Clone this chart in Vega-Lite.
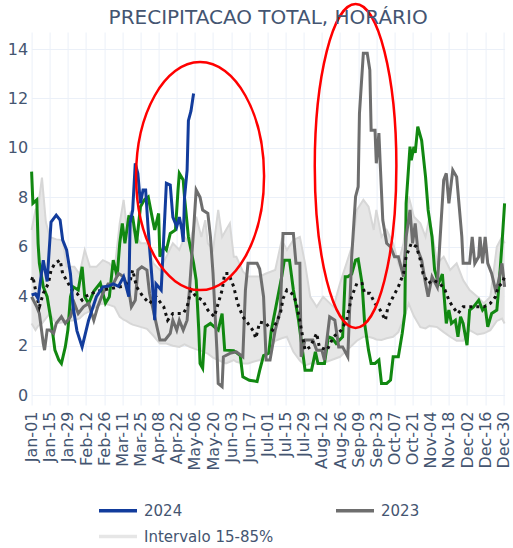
{
  "$schema": "https://vega.github.io/schema/vega-lite/v6.json",
  "width": 473,
  "height": 373,
  "autosize": {"type": "none"},
  "padding": {"left": 31.6, "top": 32, "right": 8.4, "bottom": 143},
  "title": {"text": "PRECIPITACAO TOTAL, HORÁRIO", "font": "DejaVu Sans", "fontSize": 20, "fontWeight": "normal", "color": "#445571", "anchor": "middle", "offset": -45, "baseline": "alphabetic"},
  "config": {
    "view": {"stroke": null},
    "axis": {"labelFont": "DejaVu Sans", "labelFontSize": 16, "labelColor": "#445571", "gridColor": "#ebf0f8", "gridWidth": 1, "domain": false, "ticks": false, "title": null}
  },
  "datasets": {
    "s2024": [
      {"date": "2024-01-01", "value": 4.05}, {"date": "2024-01-04", "value": 4.1}, {"date": "2024-01-06", "value": 3.9}, {"date": "2024-01-10", "value": 5.46}, {"date": "2024-01-13", "value": 4.6}, {"date": "2024-01-16", "value": 7.0}, {"date": "2024-01-20", "value": 7.28}, {"date": "2024-01-23", "value": 7.08}, {"date": "2024-01-25", "value": 6.27}, {"date": "2024-01-28", "value": 5.87}, {"date": "2024-01-31", "value": 4.9}, {"date": "2024-02-02", "value": 3.57}, {"date": "2024-02-05", "value": 2.6}, {"date": "2024-02-09", "value": 1.95}, {"date": "2024-02-14", "value": 3.03}, {"date": "2024-02-20", "value": 3.98}, {"date": "2024-02-25", "value": 4.38}, {"date": "2024-02-29", "value": 4.4}, {"date": "2024-03-04", "value": 4.5}, {"date": "2024-03-08", "value": 4.4}, {"date": "2024-03-12", "value": 4.79}, {"date": "2024-03-16", "value": 3.98}, {"date": "2024-03-17", "value": 6.95}, {"date": "2024-03-19", "value": 7.49}, {"date": "2024-03-21", "value": 9.38}, {"date": "2024-03-23", "value": 8.97}, {"date": "2024-03-25", "value": 7.76}, {"date": "2024-03-27", "value": 8.3}, {"date": "2024-03-29", "value": 8.3}, {"date": "2024-03-31", "value": 6.68}, {"date": "2024-04-03", "value": 4.65}, {"date": "2024-04-05", "value": 3.03}, {"date": "2024-04-06", "value": 4.5}, {"date": "2024-04-10", "value": 4.25}, {"date": "2024-04-12", "value": 6.4}, {"date": "2024-04-14", "value": 8.57}, {"date": "2024-04-17", "value": 8.5}, {"date": "2024-04-19", "value": 7.2}, {"date": "2024-04-22", "value": 6.81}, {"date": "2024-04-24", "value": 7.2}, {"date": "2024-04-26", "value": 6.68}, {"date": "2024-04-27", "value": 6.2}, {"date": "2024-04-28", "value": 8.0}, {"date": "2024-04-30", "value": 9.1}, {"date": "2024-05-01", "value": 11.1}, {"date": "2024-05-03", "value": 11.5}, {"date": "2024-05-05", "value": 12.2}
    ],
    "s2023": [
      {"date": "2024-01-01", "value": 3.98}, {"date": "2024-01-05", "value": 3.57}, {"date": "2024-01-07", "value": 3.3}, {"date": "2024-01-10", "value": 2.09}, {"date": "2024-01-11", "value": 1.82}, {"date": "2024-01-13", "value": 2.63}, {"date": "2024-01-15", "value": 2.63}, {"date": "2024-01-18", "value": 2.5}, {"date": "2024-01-20", "value": 2.9}, {"date": "2024-01-24", "value": 3.17}, {"date": "2024-01-27", "value": 2.9}, {"date": "2024-01-31", "value": 3.17}, {"date": "2024-02-03", "value": 3.71}, {"date": "2024-02-06", "value": 3.3}, {"date": "2024-02-10", "value": 3.57}, {"date": "2024-02-14", "value": 3.71}, {"date": "2024-02-18", "value": 3.03}, {"date": "2024-02-21", "value": 3.57}, {"date": "2024-02-25", "value": 4.12}, {"date": "2024-02-29", "value": 4.5}, {"date": "2024-03-04", "value": 4.5}, {"date": "2024-03-08", "value": 4.92}, {"date": "2024-03-12", "value": 4.79}, {"date": "2024-03-16", "value": 4.25}, {"date": "2024-03-18", "value": 3.57}, {"date": "2024-03-21", "value": 3.84}, {"date": "2024-03-23", "value": 5.06}, {"date": "2024-03-26", "value": 5.19}, {"date": "2024-03-30", "value": 5.06}, {"date": "2024-04-01", "value": 4.12}, {"date": "2024-04-05", "value": 3.17}, {"date": "2024-04-09", "value": 2.23}, {"date": "2024-04-13", "value": 2.23}, {"date": "2024-04-17", "value": 2.5}, {"date": "2024-04-19", "value": 3.03}, {"date": "2024-04-22", "value": 2.63}, {"date": "2024-04-24", "value": 3.03}, {"date": "2024-04-27", "value": 2.63}, {"date": "2024-04-30", "value": 3.03}, {"date": "2024-05-02", "value": 4.38}, {"date": "2024-05-05", "value": 6.68}, {"date": "2024-05-07", "value": 8.3}, {"date": "2024-05-10", "value": 8.0}, {"date": "2024-05-12", "value": 7.49}, {"date": "2024-05-16", "value": 7.35}, {"date": "2024-05-18", "value": 6.4}, {"date": "2024-05-20", "value": 4.92}, {"date": "2024-05-23", "value": 1.82}, {"date": "2024-05-24", "value": 0.47}, {"date": "2024-05-27", "value": 0.34}, {"date": "2024-05-28", "value": 1.55}, {"date": "2024-06-02", "value": 1.69}, {"date": "2024-06-07", "value": 1.75}, {"date": "2024-06-12", "value": 1.55}, {"date": "2024-06-14", "value": 4.25}, {"date": "2024-06-16", "value": 5.33}, {"date": "2024-06-20", "value": 5.33}, {"date": "2024-06-23", "value": 5.33}, {"date": "2024-06-25", "value": 5.1}, {"date": "2024-06-28", "value": 3.98}, {"date": "2024-06-30", "value": 1.42}, {"date": "2024-07-03", "value": 1.42}, {"date": "2024-07-07", "value": 2.63}, {"date": "2024-07-11", "value": 3.44}, {"date": "2024-07-13", "value": 6.54}, {"date": "2024-07-21", "value": 6.54}, {"date": "2024-07-23", "value": 5.33}, {"date": "2024-07-26", "value": 5.33}, {"date": "2024-07-27", "value": 1.55}, {"date": "2024-07-30", "value": 2.23}, {"date": "2024-08-05", "value": 2.23}, {"date": "2024-08-08", "value": 1.82}, {"date": "2024-08-12", "value": 1.82}, {"date": "2024-08-14", "value": 1.42}, {"date": "2024-08-18", "value": 3.17}, {"date": "2024-08-22", "value": 3.03}, {"date": "2024-08-25", "value": 1.95}, {"date": "2024-08-28", "value": 1.95}, {"date": "2024-09-01", "value": 1.55}, {"date": "2024-09-04", "value": 5.6}, {"date": "2024-09-07", "value": 8.03}, {"date": "2024-09-09", "value": 8.43}, {"date": "2024-09-10", "value": 11.4}, {"date": "2024-09-13", "value": 13.83}, {"date": "2024-09-16", "value": 13.83}, {"date": "2024-09-18", "value": 13.15}, {"date": "2024-09-19", "value": 10.72}, {"date": "2024-09-22", "value": 10.72}, {"date": "2024-09-23", "value": 9.38}, {"date": "2024-09-25", "value": 10.6}, {"date": "2024-09-26", "value": 9.38}, {"date": "2024-09-28", "value": 7.08}, {"date": "2024-10-01", "value": 6.14}, {"date": "2024-10-04", "value": 6.0}, {"date": "2024-10-07", "value": 5.6}, {"date": "2024-10-10", "value": 5.6}, {"date": "2024-10-14", "value": 4.79}, {"date": "2024-10-16", "value": 6.4}, {"date": "2024-10-19", "value": 7.49}, {"date": "2024-10-21", "value": 6.14}, {"date": "2024-10-23", "value": 6.95}, {"date": "2024-10-25", "value": 5.87}, {"date": "2024-10-28", "value": 5.46}, {"date": "2024-10-31", "value": 4.52}, {"date": "2024-11-02", "value": 3.98}, {"date": "2024-11-05", "value": 4.79}, {"date": "2024-11-09", "value": 4.38}, {"date": "2024-11-11", "value": 6.14}, {"date": "2024-11-14", "value": 8.7}, {"date": "2024-11-16", "value": 8.97}, {"date": "2024-11-18", "value": 7.76}, {"date": "2024-11-21", "value": 9.1}, {"date": "2024-11-24", "value": 8.83}, {"date": "2024-11-26", "value": 7.62}, {"date": "2024-11-28", "value": 6.4}, {"date": "2024-11-29", "value": 5.33}, {"date": "2024-12-04", "value": 5.33}, {"date": "2024-12-06", "value": 6.4}, {"date": "2024-12-08", "value": 5.33}, {"date": "2024-12-11", "value": 5.6}, {"date": "2024-12-12", "value": 6.4}, {"date": "2024-12-14", "value": 5.33}, {"date": "2024-12-16", "value": 6.4}, {"date": "2024-12-18", "value": 5.33}, {"date": "2024-12-21", "value": 4.92}, {"date": "2024-12-24", "value": 4.25}, {"date": "2024-12-26", "value": 4.52}, {"date": "2024-12-29", "value": 5.33}, {"date": "2024-12-31", "value": 4.38}
    ],
    "s2022": [
      {"date": "2024-01-01", "value": 9.04}, {"date": "2024-01-02", "value": 7.76}, {"date": "2024-01-05", "value": 7.9}, {"date": "2024-01-06", "value": 6.14}, {"date": "2024-01-07", "value": 5.33}, {"date": "2024-01-10", "value": 4.38}, {"date": "2024-01-13", "value": 3.98}, {"date": "2024-01-16", "value": 3.03}, {"date": "2024-01-19", "value": 1.82}, {"date": "2024-01-22", "value": 1.42}, {"date": "2024-01-24", "value": 1.28}, {"date": "2024-01-27", "value": 1.95}, {"date": "2024-01-29", "value": 2.63}, {"date": "2024-01-31", "value": 3.98}, {"date": "2024-02-02", "value": 4.38}, {"date": "2024-02-06", "value": 4.25}, {"date": "2024-02-09", "value": 5.19}, {"date": "2024-02-11", "value": 3.98}, {"date": "2024-02-14", "value": 3.7}, {"date": "2024-02-18", "value": 4.2}, {"date": "2024-02-23", "value": 4.53}, {"date": "2024-02-27", "value": 3.72}, {"date": "2024-03-01", "value": 3.98}, {"date": "2024-03-04", "value": 5.46}, {"date": "2024-03-07", "value": 4.79}, {"date": "2024-03-09", "value": 6.14}, {"date": "2024-03-11", "value": 6.95}, {"date": "2024-03-13", "value": 6.14}, {"date": "2024-03-16", "value": 7.22}, {"date": "2024-03-19", "value": 7.2}, {"date": "2024-03-22", "value": 6.14}, {"date": "2024-03-25", "value": 7.62}, {"date": "2024-03-28", "value": 7.9}, {"date": "2024-03-31", "value": 8.02}, {"date": "2024-04-03", "value": 7.2}, {"date": "2024-04-05", "value": 6.68}, {"date": "2024-04-08", "value": 7.35}, {"date": "2024-04-09", "value": 5.6}, {"date": "2024-04-12", "value": 6.0}, {"date": "2024-04-14", "value": 5.87}, {"date": "2024-04-17", "value": 6.54}, {"date": "2024-04-21", "value": 6.68}, {"date": "2024-04-23", "value": 8.3}, {"date": "2024-04-24", "value": 8.97}, {"date": "2024-04-27", "value": 8.7}, {"date": "2024-04-28", "value": 8.0}, {"date": "2024-05-01", "value": 6.4}, {"date": "2024-05-05", "value": 5.33}, {"date": "2024-05-07", "value": 4.65}, {"date": "2024-05-09", "value": 2.63}, {"date": "2024-05-10", "value": 1.28}, {"date": "2024-05-12", "value": 1.09}, {"date": "2024-05-14", "value": 2.76}, {"date": "2024-05-18", "value": 2.9}, {"date": "2024-05-21", "value": 2.76}, {"date": "2024-05-24", "value": 2.63}, {"date": "2024-05-27", "value": 3.3}, {"date": "2024-05-29", "value": 1.82}, {"date": "2024-06-05", "value": 1.8}, {"date": "2024-06-10", "value": 1.6}, {"date": "2024-06-12", "value": 0.74}, {"date": "2024-06-17", "value": 0.6}, {"date": "2024-06-23", "value": 0.55}, {"date": "2024-06-25", "value": 1.0}, {"date": "2024-06-28", "value": 1.6}, {"date": "2024-07-02", "value": 1.69}, {"date": "2024-07-04", "value": 2.63}, {"date": "2024-07-08", "value": 3.7}, {"date": "2024-07-12", "value": 4.79}, {"date": "2024-07-14", "value": 5.46}, {"date": "2024-07-18", "value": 5.46}, {"date": "2024-07-21", "value": 4.25}, {"date": "2024-07-25", "value": 3.03}, {"date": "2024-07-27", "value": 2.23}, {"date": "2024-07-30", "value": 1.01}, {"date": "2024-08-04", "value": 1.01}, {"date": "2024-08-07", "value": 1.75}, {"date": "2024-08-09", "value": 1.28}, {"date": "2024-08-14", "value": 1.28}, {"date": "2024-08-17", "value": 2.36}, {"date": "2024-08-20", "value": 2.3}, {"date": "2024-08-23", "value": 2.09}, {"date": "2024-08-28", "value": 2.36}, {"date": "2024-08-30", "value": 4.79}, {"date": "2024-09-01", "value": 4.79}, {"date": "2024-09-04", "value": 4.9}, {"date": "2024-09-07", "value": 5.46}, {"date": "2024-09-09", "value": 5.5}, {"date": "2024-09-12", "value": 4.52}, {"date": "2024-09-14", "value": 2.9}, {"date": "2024-09-17", "value": 1.82}, {"date": "2024-09-19", "value": 1.28}, {"date": "2024-09-22", "value": 1.28}, {"date": "2024-09-25", "value": 1.42}, {"date": "2024-09-27", "value": 0.47}, {"date": "2024-10-01", "value": 0.47}, {"date": "2024-10-04", "value": 0.61}, {"date": "2024-10-06", "value": 1.55}, {"date": "2024-10-10", "value": 1.55}, {"date": "2024-10-13", "value": 2.5}, {"date": "2024-10-15", "value": 3.3}, {"date": "2024-10-16", "value": 7.76}, {"date": "2024-10-19", "value": 10.05}, {"date": "2024-10-20", "value": 9.5}, {"date": "2024-10-22", "value": 10.05}, {"date": "2024-10-23", "value": 9.8}, {"date": "2024-10-25", "value": 10.86}, {"date": "2024-10-28", "value": 10.3}, {"date": "2024-10-31", "value": 8.83}, {"date": "2024-11-02", "value": 7.49}, {"date": "2024-11-05", "value": 6.4}, {"date": "2024-11-07", "value": 5.06}, {"date": "2024-11-10", "value": 4.52}, {"date": "2024-11-13", "value": 4.9}, {"date": "2024-11-16", "value": 2.9}, {"date": "2024-11-18", "value": 3.44}, {"date": "2024-11-20", "value": 2.9}, {"date": "2024-11-23", "value": 3.03}, {"date": "2024-11-25", "value": 2.36}, {"date": "2024-11-27", "value": 3.17}, {"date": "2024-11-29", "value": 2.9}, {"date": "2024-12-02", "value": 2.02}, {"date": "2024-12-04", "value": 3.44}, {"date": "2024-12-07", "value": 3.57}, {"date": "2024-12-11", "value": 3.84}, {"date": "2024-12-14", "value": 3.44}, {"date": "2024-12-16", "value": 3.57}, {"date": "2024-12-18", "value": 2.76}, {"date": "2024-12-21", "value": 3.3}, {"date": "2024-12-25", "value": 3.44}, {"date": "2024-12-27", "value": 4.65}, {"date": "2024-12-29", "value": 6.14}, {"date": "2024-12-31", "value": 7.76}
    ],
    "media": [
      {"date": "2024-01-01", "value": 4.65}, {"date": "2024-01-02", "value": 4.8}, {"date": "2024-01-05", "value": 3.98}, {"date": "2024-01-07", "value": 3.57}, {"date": "2024-01-10", "value": 4.12}, {"date": "2024-01-14", "value": 4.52}, {"date": "2024-01-16", "value": 5.06}, {"date": "2024-01-19", "value": 5.33}, {"date": "2024-01-23", "value": 5.46}, {"date": "2024-01-25", "value": 4.9}, {"date": "2024-01-28", "value": 4.65}, {"date": "2024-02-01", "value": 4.25}, {"date": "2024-02-05", "value": 4.12}, {"date": "2024-02-09", "value": 3.84}, {"date": "2024-02-12", "value": 4.0}, {"date": "2024-02-20", "value": 4.2}, {"date": "2024-03-01", "value": 4.3}, {"date": "2024-03-11", "value": 4.4}, {"date": "2024-03-17", "value": 4.6}, {"date": "2024-03-19", "value": 5.06}, {"date": "2024-03-22", "value": 4.38}, {"date": "2024-03-27", "value": 3.98}, {"date": "2024-04-01", "value": 3.71}, {"date": "2024-04-06", "value": 3.98}, {"date": "2024-04-12", "value": 3.57}, {"date": "2024-04-15", "value": 3.03}, {"date": "2024-04-19", "value": 3.3}, {"date": "2024-04-23", "value": 3.3}, {"date": "2024-04-27", "value": 3.3}, {"date": "2024-04-30", "value": 3.57}, {"date": "2024-05-03", "value": 4.25}, {"date": "2024-05-07", "value": 3.98}, {"date": "2024-05-12", "value": 3.84}, {"date": "2024-05-16", "value": 3.44}, {"date": "2024-05-21", "value": 3.17}, {"date": "2024-05-27", "value": 4.25}, {"date": "2024-05-29", "value": 4.92}, {"date": "2024-06-01", "value": 4.92}, {"date": "2024-06-05", "value": 4.38}, {"date": "2024-06-08", "value": 3.71}, {"date": "2024-06-12", "value": 3.17}, {"date": "2024-06-16", "value": 2.9}, {"date": "2024-06-20", "value": 2.6}, {"date": "2024-06-22", "value": 2.3}, {"date": "2024-06-25", "value": 2.95}, {"date": "2024-06-30", "value": 2.9}, {"date": "2024-07-02", "value": 2.76}, {"date": "2024-07-05", "value": 2.63}, {"date": "2024-07-11", "value": 3.3}, {"date": "2024-07-13", "value": 3.9}, {"date": "2024-07-16", "value": 4.25}, {"date": "2024-07-20", "value": 4.1}, {"date": "2024-07-23", "value": 3.8}, {"date": "2024-07-26", "value": 3.0}, {"date": "2024-07-30", "value": 1.82}, {"date": "2024-08-03", "value": 1.95}, {"date": "2024-08-08", "value": 2.5}, {"date": "2024-08-10", "value": 1.95}, {"date": "2024-08-16", "value": 1.82}, {"date": "2024-08-21", "value": 2.36}, {"date": "2024-08-27", "value": 2.63}, {"date": "2024-08-31", "value": 3.03}, {"date": "2024-09-04", "value": 3.98}, {"date": "2024-09-08", "value": 4.52}, {"date": "2024-09-12", "value": 4.52}, {"date": "2024-09-14", "value": 4.12}, {"date": "2024-09-18", "value": 4.12}, {"date": "2024-09-22", "value": 3.71}, {"date": "2024-09-26", "value": 3.44}, {"date": "2024-09-30", "value": 3.03}, {"date": "2024-10-02", "value": 3.57}, {"date": "2024-10-06", "value": 3.98}, {"date": "2024-10-10", "value": 4.38}, {"date": "2024-10-14", "value": 4.92}, {"date": "2024-10-16", "value": 5.6}, {"date": "2024-10-20", "value": 6.14}, {"date": "2024-10-24", "value": 6.0}, {"date": "2024-10-27", "value": 5.46}, {"date": "2024-10-29", "value": 4.92}, {"date": "2024-11-02", "value": 4.52}, {"date": "2024-11-06", "value": 4.65}, {"date": "2024-11-11", "value": 4.52}, {"date": "2024-11-15", "value": 4.25}, {"date": "2024-11-18", "value": 3.84}, {"date": "2024-11-21", "value": 3.57}, {"date": "2024-11-25", "value": 3.3}, {"date": "2024-11-29", "value": 3.57}, {"date": "2024-12-04", "value": 3.57}, {"date": "2024-12-10", "value": 3.57}, {"date": "2024-12-15", "value": 3.57}, {"date": "2024-12-20", "value": 3.71}, {"date": "2024-12-24", "value": 3.98}, {"date": "2024-12-26", "value": 4.38}, {"date": "2024-12-29", "value": 4.52}, {"date": "2024-12-31", "value": 4.79}
    ],
    "faixa": [
      {"date": "2024-01-01", "lo": 2.9, "hi": 6.68}, {"date": "2024-01-04", "lo": 2.63, "hi": 7.5}, {"date": "2024-01-06", "lo": 2.8, "hi": 7.6}, {"date": "2024-01-09", "lo": 2.9, "hi": 8.8}, {"date": "2024-01-12", "lo": 3.1, "hi": 7.0}, {"date": "2024-01-15", "lo": 3.3, "hi": 6.4}, {"date": "2024-01-20", "lo": 2.9, "hi": 6.3}, {"date": "2024-01-25", "lo": 2.95, "hi": 6.27}, {"date": "2024-01-28", "lo": 3.0, "hi": 5.2}, {"date": "2024-02-03", "lo": 3.03, "hi": 5.19}, {"date": "2024-02-07", "lo": 3.1, "hi": 4.9}, {"date": "2024-02-11", "lo": 3.3, "hi": 5.87}, {"date": "2024-02-15", "lo": 3.4, "hi": 5.19}, {"date": "2024-02-20", "lo": 3.6, "hi": 5.19}, {"date": "2024-02-25", "lo": 3.71, "hi": 5.46}, {"date": "2024-03-01", "lo": 3.65, "hi": 5.33}, {"date": "2024-03-05", "lo": 3.57, "hi": 5.06}, {"date": "2024-03-09", "lo": 3.17, "hi": 6.95}, {"date": "2024-03-12", "lo": 3.05, "hi": 7.9}, {"date": "2024-03-14", "lo": 3.0, "hi": 7.0}, {"date": "2024-03-17", "lo": 2.9, "hi": 7.35}, {"date": "2024-03-19", "lo": 2.85, "hi": 6.68}, {"date": "2024-03-25", "lo": 2.76, "hi": 6.14}, {"date": "2024-03-30", "lo": 2.68, "hi": 6.14}, {"date": "2024-04-04", "lo": 2.4, "hi": 5.33}, {"date": "2024-04-09", "lo": 2.09, "hi": 5.06}, {"date": "2024-04-14", "lo": 2.09, "hi": 5.6}, {"date": "2024-04-19", "lo": 2.0, "hi": 6.14}, {"date": "2024-04-24", "lo": 1.95, "hi": 5.87}, {"date": "2024-04-28", "lo": 2.05, "hi": 6.4}, {"date": "2024-05-02", "lo": 1.95, "hi": 6.14}, {"date": "2024-05-07", "lo": 1.85, "hi": 7.22}, {"date": "2024-05-11", "lo": 1.8, "hi": 6.4}, {"date": "2024-05-14", "lo": 1.72, "hi": 7.08}, {"date": "2024-05-16", "lo": 1.68, "hi": 6.14}, {"date": "2024-05-20", "lo": 1.52, "hi": 5.87}, {"date": "2024-05-24", "lo": 1.42, "hi": 7.49}, {"date": "2024-05-27", "lo": 1.35, "hi": 6.4}, {"date": "2024-05-30", "lo": 1.28, "hi": 6.68}, {"date": "2024-06-02", "lo": 1.35, "hi": 6.95}, {"date": "2024-06-05", "lo": 1.42, "hi": 5.6}, {"date": "2024-06-07", "lo": 1.35, "hi": 5.6}, {"date": "2024-06-12", "lo": 1.28, "hi": 5.0}, {"date": "2024-06-16", "lo": 1.28, "hi": 4.8}, {"date": "2024-06-20", "lo": 1.35, "hi": 4.8}, {"date": "2024-06-25", "lo": 1.42, "hi": 4.8}, {"date": "2024-06-30", "lo": 1.65, "hi": 4.92}, {"date": "2024-07-07", "lo": 2.2, "hi": 5.06}, {"date": "2024-07-12", "lo": 2.3, "hi": 6.27}, {"date": "2024-07-16", "lo": 2.36, "hi": 5.87}, {"date": "2024-07-21", "lo": 1.75, "hi": 6.27}, {"date": "2024-07-26", "lo": 1.4, "hi": 6.4}, {"date": "2024-07-30", "lo": 1.2, "hi": 5.33}, {"date": "2024-08-03", "lo": 1.28, "hi": 3.98}, {"date": "2024-08-08", "lo": 1.28, "hi": 3.57}, {"date": "2024-08-13", "lo": 1.3, "hi": 3.98}, {"date": "2024-08-21", "lo": 1.45, "hi": 3.57}, {"date": "2024-08-26", "lo": 1.55, "hi": 4.52}, {"date": "2024-08-31", "lo": 1.8, "hi": 5.33}, {"date": "2024-09-05", "lo": 2.05, "hi": 6.14}, {"date": "2024-09-08", "lo": 2.2, "hi": 7.49}, {"date": "2024-09-13", "lo": 2.36, "hi": 7.9}, {"date": "2024-09-17", "lo": 2.36, "hi": 7.62}, {"date": "2024-09-21", "lo": 2.3, "hi": 6.68}, {"date": "2024-09-23", "lo": 2.25, "hi": 7.49}, {"date": "2024-09-27", "lo": 2.23, "hi": 6.4}, {"date": "2024-10-01", "lo": 2.3, "hi": 6.68}, {"date": "2024-10-06", "lo": 2.36, "hi": 6.14}, {"date": "2024-10-10", "lo": 2.55, "hi": 5.33}, {"date": "2024-10-14", "lo": 3.1, "hi": 6.14}, {"date": "2024-10-18", "lo": 3.7, "hi": 8.03}, {"date": "2024-10-22", "lo": 3.2, "hi": 7.22}, {"date": "2024-10-27", "lo": 2.75, "hi": 6.95}, {"date": "2024-10-31", "lo": 2.7, "hi": 6.4}, {"date": "2024-11-03", "lo": 2.8, "hi": 7.22}, {"date": "2024-11-09", "lo": 2.75, "hi": 5.33}, {"date": "2024-11-14", "lo": 2.55, "hi": 5.6}, {"date": "2024-11-19", "lo": 2.36, "hi": 5.06}, {"date": "2024-11-24", "lo": 2.2, "hi": 5.33}, {"date": "2024-11-29", "lo": 2.2, "hi": 4.65}, {"date": "2024-12-04", "lo": 2.63, "hi": 4.25}, {"date": "2024-12-10", "lo": 2.45, "hi": 3.98}, {"date": "2024-12-15", "lo": 2.5, "hi": 3.71}, {"date": "2024-12-20", "lo": 2.63, "hi": 3.98}, {"date": "2024-12-25", "lo": 3.0, "hi": 6.0}, {"date": "2024-12-29", "lo": 3.1, "hi": 6.4}, {"date": "2024-12-31", "lo": 2.9, "hi": 6.14}
    ],
    "destaques": [
      {"id": "abril-maio", "date": "2024-05-10", "value": 8.86},
      {"id": "setembro", "date": "2024-09-07", "value": 9.27}
    ]
  },
  "encoding": {
    "x": {
      "field": "date", "type": "temporal",
      "scale": {"type": "utc", "domain": [{"year": 2024, "month": 1, "date": 1, "utc": true}, {"year": 2024, "month": 12, "date": 31, "utc": true}]},
      "axis": {
        "format": "%b-%d", "labelAngle": -90, "labelPadding": 6, "grid": true,
        "values": [
          {"year": 2024, "month": 1, "date": 1, "utc": true}, {"year": 2024, "month": 1, "date": 15, "utc": true}, {"year": 2024, "month": 1, "date": 29, "utc": true},
          {"year": 2024, "month": 2, "date": 12, "utc": true}, {"year": 2024, "month": 2, "date": 26, "utc": true}, {"year": 2024, "month": 3, "date": 11, "utc": true},
          {"year": 2024, "month": 3, "date": 25, "utc": true}, {"year": 2024, "month": 4, "date": 8, "utc": true}, {"year": 2024, "month": 4, "date": 22, "utc": true},
          {"year": 2024, "month": 5, "date": 6, "utc": true}, {"year": 2024, "month": 5, "date": 20, "utc": true}, {"year": 2024, "month": 6, "date": 3, "utc": true},
          {"year": 2024, "month": 6, "date": 17, "utc": true}, {"year": 2024, "month": 7, "date": 1, "utc": true}, {"year": 2024, "month": 7, "date": 15, "utc": true},
          {"year": 2024, "month": 7, "date": 29, "utc": true}, {"year": 2024, "month": 8, "date": 12, "utc": true}, {"year": 2024, "month": 8, "date": 26, "utc": true},
          {"year": 2024, "month": 9, "date": 9, "utc": true}, {"year": 2024, "month": 9, "date": 23, "utc": true}, {"year": 2024, "month": 10, "date": 7, "utc": true},
          {"year": 2024, "month": 10, "date": 21, "utc": true}, {"year": 2024, "month": 11, "date": 4, "utc": true}, {"year": 2024, "month": 11, "date": 18, "utc": true},
          {"year": 2024, "month": 12, "date": 2, "utc": true}, {"year": 2024, "month": 12, "date": 16, "utc": true}, {"year": 2024, "month": 12, "date": 30, "utc": true}
        ]
      }
    }
  },
  "layer": [
    {
      "data": {"name": "faixa"},
      "mark": {"type": "area", "opacity": 1},
      "encoding": {
        "y": {"field": "hi", "type": "quantitative", "scale": {"domain": [-0.4, 14.69], "nice": false, "zero": false}, "axis": {"values": [0, 2, 4, 6, 8, 10, 12, 14], "labelPadding": 4, "grid": true}},
        "y2": {"field": "lo"},
        "color": {
          "datum": "Intervalo 15-85%",
          "scale": {"domain": ["2024", "2023", "Intervalo 15-85%"], "range": ["#123c9c", "#6e6e6e", "#e6e6e6"]},
          "legend": {
            "orient": "none", "legendX": 65.4, "legendY": 471, "direction": "horizontal", "columns": 2, "title": null,
            "padding": 0, "columnPadding": 60, "rowPadding": 10, "clipHeight": 15,
            "symbolType": "stroke", "symbolSize": 1444, "symbolStrokeWidth": 3.5, "labelOffset": 5,
            "labelFont": "DejaVu Sans", "labelFontSize": 15, "labelColor": "#445571",
            "encode": {"symbols": {"update": {
              "stroke": {"scale": "color", "field": "value"},
              "fill": {"value": "transparent"},
              "strokeWidth": {"signal": "datum.value === 'Intervalo 15-85%' ? 10 : 3.5"}
            }}}
          }
        }
      }
    },
    {
      "data": {"name": "faixa"},
      "mark": {"type": "line", "color": "#d7d7d7", "strokeWidth": 2},
      "encoding": {"y": {"field": "hi", "type": "quantitative"}}
    },
    {
      "data": {"name": "faixa"},
      "mark": {"type": "line", "color": "#d7d7d7", "strokeWidth": 2},
      "encoding": {"y": {"field": "lo", "type": "quantitative"}}
    },
    {
      "data": {"name": "s2022"},
      "mark": {"type": "line", "color": "#118811", "strokeWidth": 3},
      "encoding": {"y": {"field": "value", "type": "quantitative"}}
    },
    {
      "data": {"name": "s2023"},
      "mark": {"type": "line", "strokeWidth": 3},
      "encoding": {"y": {"field": "value", "type": "quantitative"}, "color": {"datum": "2023"}}
    },
    {
      "data": {"name": "media"},
      "mark": {"type": "line", "color": "#111111", "strokeWidth": 3, "strokeDash": [3, 4], "strokeCap": "butt"},
      "encoding": {"y": {"field": "value", "type": "quantitative"}}
    },
    {
      "data": {"name": "s2024"},
      "mark": {"type": "line", "strokeWidth": 3},
      "encoding": {"y": {"field": "value", "type": "quantitative"}, "color": {"datum": "2024"}}
    },
    {
      "data": {"name": "destaques"},
      "transform": [{"filter": "datum.id === 'abril-maio'"}],
      "mark": {"type": "point", "shape": "M-0.5614,0A0.5614,1,0,1,0,0.5614,0A0.5614,1,0,1,0,-0.5614,0Z", "size": 51984, "filled": false, "stroke": "#ff0000", "strokeWidth": 2.5, "opacity": 1},
      "encoding": {"y": {"field": "value", "type": "quantitative"}}
    },
    {
      "data": {"name": "destaques"},
      "transform": [{"filter": "datum.id === 'setembro'"}],
      "mark": {"type": "point", "shape": "M-0.2519,0A0.2519,1,0,1,0,0.2519,0A0.2519,1,0,1,0,-0.2519,0Z", "size": 104976, "filled": false, "stroke": "#ff0000", "strokeWidth": 2.5, "opacity": 1},
      "encoding": {"y": {"field": "value", "type": "quantitative"}}
    }
  ]
}
